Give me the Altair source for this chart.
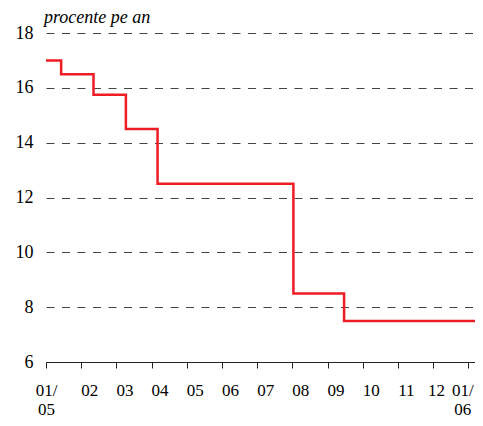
import altair as alt
import pandas as pd

# step positions in months since 01/2005 (0 = start of Jan 2005)
step_month = [0.0, 0.43, 1.35, 2.27, 3.17, 7.03, 8.47, 12.19]
rate = [17.0, 16.5, 15.75, 14.5, 12.5, 8.5, 7.5, 7.5]

tick_values = list(range(13))
tick_labels = ["01/\n05", "02", "03", "04", "05", "06", "07", "08", "09",
               "10", "11", "12", "01/\n06"]

df = pd.DataFrame({"m": step_month, "r": rate})

def js_label(s):
    parts = s.split("\n")
    if len(parts) == 1:
        return "'" + parts[0] + "'"
    return "[" + ",".join("'" + p + "'" for p in parts) + "]"

label_expr = ""
for v, lab in zip(tick_values, tick_labels):
    label_expr += f"datum.value == {v} ? {js_label(lab)} : "
label_expr += "''"

FONT = "'Liberation Serif', 'Times New Roman', Times, 'DejaVu Serif', serif"

chart = alt.Chart(df).mark_line(
    interpolate="step-after", color="#ee1c25", strokeWidth=2.5
).encode(
    x=alt.X("m:Q",
            scale=alt.Scale(domain=[0, 12.19], nice=False, zero=False),
            axis=alt.Axis(values=tick_values, labelExpr=label_expr, title=None,
                          grid=False, domainColor="#222222", tickColor="#222222",
                          tickSize=6, labelPadding=14, labelLineHeight=19,
                          labelFont=FONT, labelFontSize=17, labelColor="black",
                          labelBaseline="top", labelFlush=False, labelOverlap=False,
                          labelAlign="center",
                          labelOffset={"condition": [
                              {"test": "datum.value == 0", "value": 0},
                              {"test": "datum.value == 12", "value": -6},
                              {"test": "datum.value == 11", "value": 3}],
                              "value": 8})),
    y=alt.Y("r:Q",
            scale=alt.Scale(domain=[6, 18], nice=False, zero=False),
            axis=alt.Axis(values=[6, 8, 10, 12, 14, 16, 18], title=None,
                          domain=False, ticks=False, tickSize=0, labelPadding=13,
                          labelFont=FONT, labelFontSize=18, labelColor="black",
                          grid=True, gridColor="#444444", gridDash=[8, 7.5],
                          gridWidth=1)),
).properties(
    width=429, height=329,
    title=alt.TitleParams("procente pe an", anchor="start", frame="group",
                          font=FONT, fontSize=18, fontStyle="italic",
                          fontWeight="normal", color="black", offset=0, dx=-2, dy=3),
    autosize="none",
    padding={"left": 38, "top": 25, "right": 0, "bottom": 56},
).configure_view(stroke=None)

chart.save("out.html", embed_options={"renderer": "svg", "actions": False})
